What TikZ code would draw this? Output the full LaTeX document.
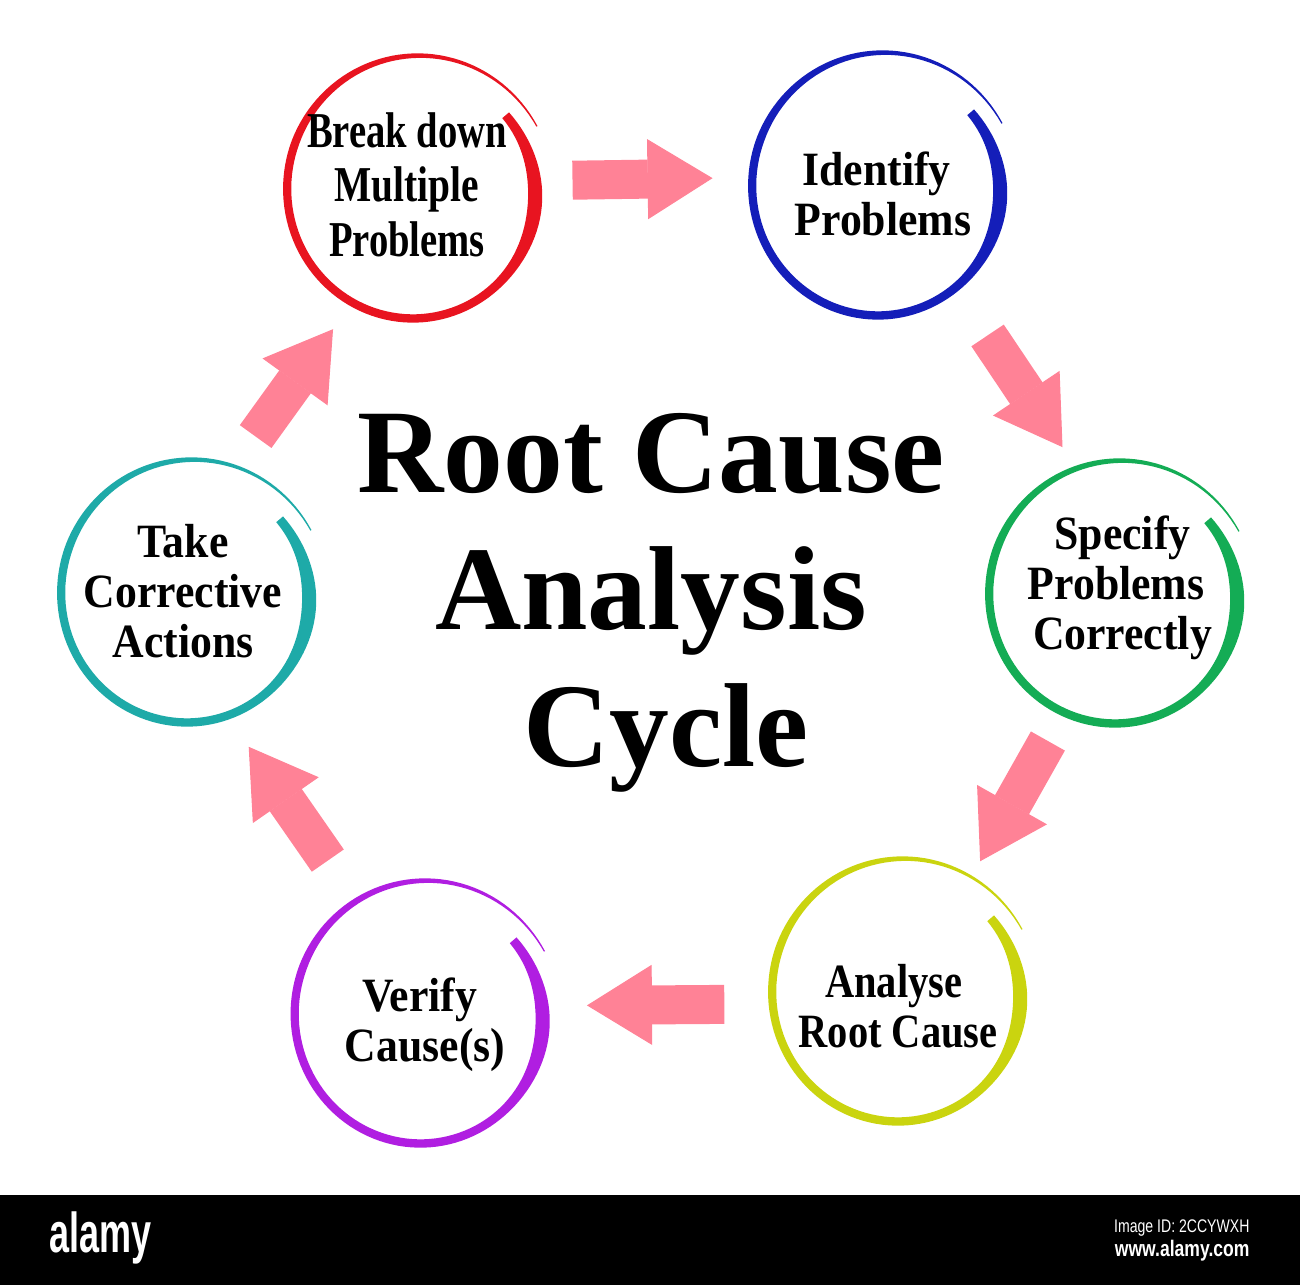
\documentclass[tikz,border=0pt]{standalone}
\usepackage{fontspec}
\usepackage{graphicx}
\usepackage{tikz}
\setmainfont{Liberation Serif}
\newfontfamily\bandfont{Liberation Sans}
\usetikzlibrary{arrows.meta}
\definecolor{cRed}{RGB}{232,20,32}
\definecolor{cBlue}{RGB}{20,30,185}
\definecolor{cGreen}{RGB}{20,172,85}
\definecolor{cYellow}{RGB}{202,212,15}
\definecolor{cPurple}{RGB}{176,30,225}
\definecolor{cTeal}{RGB}{30,170,168}
\definecolor{cPink}{RGB}{255,130,150}
\tikzset{
	declare function={ringu(\t)=(\t-28)/372; ringr(\t)=1.37-0.2*ringu(\t); ringw(\t)=0.012+0.07*min(1,ringu(\t)/0.35)+0.06*exp(-((ringu(\t)-0.88)/0.08)^2);},
	ringbox/.style ={circle, minimum size=2.6cm, inner sep=0pt, outer sep=0pt},
	steptext/.style={font=\bfseries\fontsize{13.6}{14.2}\selectfont, align=center, inner sep=0pt, xscale=0.915, transform shape},
	titletext/.style={font=\bfseries\fontsize{34}{39}\selectfont, align=center, inner sep=0pt},
	cyclearrow/.style={cPink, line width=0.39cm, -{Triangle[length=0.65cm, width=0.8cm, line width=0.3pt, sep=-0.3pt]}},
}
% open hand-drawn ring round a named node
\newcommand{\ringstroke}[2]{%
	\fill[#2, shift={(#1.center)}, xshift=0.03cm, yscale=1.02]
		plot[domain=28:400, samples=130] ({(ringr(\x)+ringw(\x)/2)*cos(\x)}, {(ringr(\x)+ringw(\x)/2)*sin(\x)})
		-- plot[domain=400:28, samples=130] ({(ringr(\x)-ringw(\x)/2)*cos(\x)}, {(ringr(\x)-ringw(\x)/2)*sin(\x)})
		-- cycle;}
\begin{document}
\begin{tikzpicture}
	\useasboundingbox (0,0) rectangle (13,12.85);
	% rings
	\node[ringbox] (breakdown) at (4.13,10.93) {};
	\node[ringbox] (identify) at (8.78,10.96) {};
	\node[ringbox] (specify) at (11.15,6.88) {};
	\node[ringbox] (analyse) at (8.98,2.90) {};
	\node[ringbox] (verify) at (4.205,2.68) {};
	\node[ringbox] (corrective) at (1.87,6.89) {};
	\ringstroke{breakdown}{cRed}
	\ringstroke{identify}{cBlue}
	\ringstroke{specify}{cGreen}
	\ringstroke{analyse}{cYellow}
	\ringstroke{verify}{cPurple}
	\ringstroke{corrective}{cTeal}
	% labels
	\node[steptext, yscale=1.05, xscale=0.92] (breakdownText) at (4.07,11.005) {\scalebox{0.96}[1]{Break down}\\[0.6pt]\scalebox{0.98}[1]{Multiple}\\[0.6pt]\scalebox{0.96}[1]{Problems}};
	\node[steptext] (identifyText) at (8.83,10.91) {\hspace*{-0.14cm}Identify\\Problems};
	\node[steptext] (specifyText) at (11.225,6.97) {Specify\\\hspace*{-0.14cm}Problems\\Correctly};
	\node[steptext, xscale=0.925] (analyseText) at (8.98,2.79) {\hspace*{-0.1cm}Analyse\\Root Cause};
	\node[steptext] (verifyText) at (4.25,2.60) {\hspace*{-0.12cm}Verify\\Cause(s)};
	\node[steptext] (correctiveText) at (1.83,6.94) {Take\\Corrective\\Actions};
	\node[titletext] (title) at (6.51,6.82) {Root Cause\\Analysis\\\hspace*{0.30cm}Cycle};
	% arrows
	\draw[cyclearrow, shorten <=0.30cm, shorten >=0.37cm] (breakdown.5) -- (identify.175);
	\draw[cyclearrow, shorten <=0.53cm, shorten >=0.31cm] (identify.-52) -- (specify.106);
	\draw[cyclearrow, shorten <=0.29cm, shorten >=0.28cm] (specify.-114) -- (analyse.58);
	\draw[cyclearrow, shorten <=0.44cm, shorten >=0.38cm] (analyse.184) -- (verify.5);
	\draw[cyclearrow, shorten <=0.52cm, shorten >=0.35cm] (verify.119) -- (corrective.-71);
	\draw[cyclearrow, shorten <=0.45cm, shorten >=0.30cm] (corrective.71) -- (breakdown.-119);
	% stock image band
	\fill[black] (0,0) rectangle (13,0.90);
	\node[font=\bandfont\bfseries\fontsize{16}{16}\selectfont, text=white, xscale=0.64, transform shape, inner sep=0pt] (bandLogo) at (1.005,0.47) {alamy};
	\node[font=\bandfont\fontsize{5.2}{5.2}\selectfont, text=white, xscale=0.77, transform shape, anchor=east, inner sep=0pt] (bandId) at (12.5,0.57) {Image ID: 2CCYWXH};
	\node[font=\bandfont\bfseries\fontsize{6.4}{6.4}\selectfont, text=white, xscale=0.78, transform shape, anchor=east, inner sep=0pt] (bandUrl) at (12.5,0.34) {www.alamy.com};
\end{tikzpicture}
\end{document}
